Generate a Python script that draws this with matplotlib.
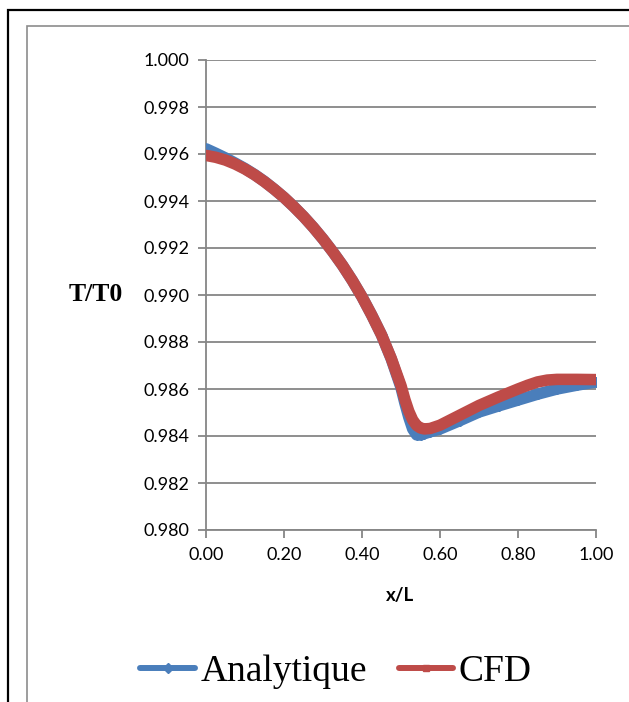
import matplotlib
matplotlib.use("Agg")
import matplotlib.pyplot as plt
from matplotlib.lines import Line2D
from matplotlib.patches import Rectangle

# Axial position along the duct and static temperature ratio T/T0
x_analytique = [0.000, 0.025, 0.050, 0.075, 0.100, 0.125, 0.150, 0.175, 0.200, 0.225,
                0.250, 0.275, 0.300, 0.325, 0.350, 0.375, 0.400, 0.425, 0.450, 0.475,
                0.500, 0.510, 0.520, 0.530, 0.540, 0.550, 0.560, 0.575, 0.600, 0.650,
                0.700, 0.750, 0.800, 0.850, 0.900, 0.950, 1.000]
t_analytique = [0.99622, 0.99603, 0.99583, 0.99561, 0.99538, 0.99512, 0.99483, 0.99450,
                0.99415, 0.99376, 0.99334, 0.99288, 0.99238, 0.99184, 0.99126, 0.99062,
                0.98992, 0.98914, 0.98830, 0.98728, 0.98606, 0.98540, 0.98480, 0.98430,
                0.98405, 0.98404, 0.98410, 0.98418, 0.98430, 0.98465, 0.98502, 0.98528,
                0.98553, 0.98578, 0.98600, 0.98616, 0.98630]

x_cfd = [0.000, 0.025, 0.050, 0.075, 0.100, 0.125, 0.150, 0.175, 0.200, 0.225,
         0.250, 0.275, 0.300, 0.325, 0.350, 0.375, 0.400, 0.425, 0.450, 0.475,
         0.500, 0.510, 0.520, 0.530, 0.540, 0.550, 0.560, 0.575, 0.600, 0.650,
         0.700, 0.750, 0.800, 0.825, 0.850, 0.875, 0.900, 0.950, 1.000]
t_cfd = [0.99594, 0.99586, 0.99574, 0.99557, 0.99536, 0.99511, 0.99482, 0.99450,
         0.99415, 0.99376, 0.99334, 0.99288, 0.99238, 0.99184, 0.99126, 0.99062,
         0.98992, 0.98914, 0.98830, 0.98730, 0.98614, 0.98555, 0.98505, 0.98468,
         0.98445, 0.98434, 0.98430, 0.98432, 0.98446, 0.98488, 0.98530, 0.98566,
         0.98600, 0.98616, 0.98630, 0.98638, 0.98641, 0.98641, 0.98640]

x_ticks = [0.0, 0.2, 0.4, 0.6, 0.8, 1.0]
x_tick_labels = ["0.00", "0.20", "0.40", "0.60", "0.80", "1.00"]
y_ticks = [0.980, 0.982, 0.984, 0.986, 0.988, 0.990, 0.992, 0.994, 0.996, 0.998, 1.000]
y_tick_labels = ["%.3f" % v for v in y_ticks]

series_names = ["Analytique", "CFD"]

BLUE = "#4A7EBB"
RED = "#BE4B48"
GRID = "#868686"

W, H = 629, 702
fig = plt.figure(figsize=(W / 100, H / 100), dpi=100)

# Chart frames
fig.patches.append(Rectangle((8 / W, -0.1), 1.2, 1 - 10 / H + 0.1, transform=fig.transFigure,
                             fill=False, edgecolor="black", linewidth=1.6, zorder=0))
fig.patches.append(Rectangle((26.5 / W, -0.1), 1.2, 1 - 26 / H + 0.1, transform=fig.transFigure,
                             fill=False, edgecolor="#8C8C8C", linewidth=1.2, zorder=0))

ax = fig.add_axes([206 / W, 1 - 530 / H, 390 / W, 470 / H])

ax.plot(x_analytique, t_analytique, color=BLUE, linewidth=8.3, marker="D",
        markersize=5, solid_capstyle="round", solid_joinstyle="round", zorder=3)
ax.plot(x_cfd, t_cfd, color=RED, linewidth=8.3, solid_capstyle="round",
        solid_joinstyle="round", zorder=4)

ax.set_xlim(0, 1)
ax.set_ylim(0.980, 1.000)
ax.set_xticks(x_ticks)
ax.set_xticklabels(x_tick_labels)
ax.set_yticks(y_ticks)
ax.set_yticklabels(y_tick_labels)

ax.grid(axis="y", color=GRID, linewidth=1.3)
ax.set_axisbelow(True)
for side in ("top", "right"):
    ax.spines[side].set_visible(False)
for side in ("left", "bottom"):
    ax.spines[side].set_color(GRID)
    ax.spines[side].set_linewidth(1.3)

ax.tick_params(axis="both", direction="out", length=6, width=1.3, color=GRID,
               labelsize=13, pad=6)
for lab in ax.get_xticklabels() + ax.get_yticklabels():
    lab.set_fontfamily("Lato")
    lab.set_color("black")

fig.text(400 / W, 1 - 595 / H, "x/L", ha="center", va="center",
         fontsize=13.5, fontweight="bold", family="Lato")
fig.text(96 / W, 1 - 294 / H, "T/T0", ha="center", va="center",
         fontsize=18.5, fontweight="bold", family="Liberation Serif")

handles = [
    Line2D([], [], color=BLUE, linewidth=4.3, marker="D", markersize=5,
           solid_capstyle="round"),
    Line2D([], [], color=RED, linewidth=4.3, marker="s", markersize=5,
           solid_capstyle="round"),
]
fig.legend(handles, series_names, loc="center", bbox_to_anchor=(336 / W, 1 - 672 / H),
           ncol=2, frameon=False, handlelength=1.45, handletextpad=0.15,
           columnspacing=0.85, prop={"family": "Liberation Serif", "size": 27})

fig.savefig("out.png", dpi=100)
